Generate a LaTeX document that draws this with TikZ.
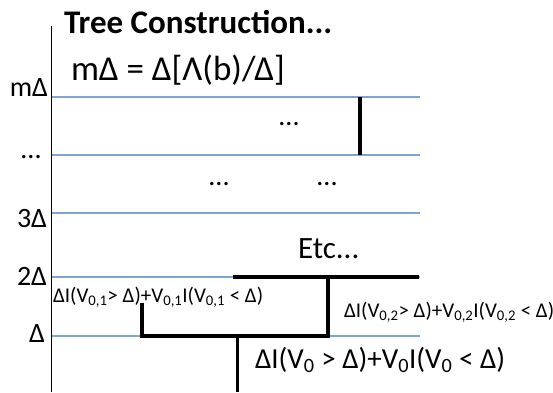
\documentclass[tikz,border=0pt]{standalone}
\usepackage{fontspec}
\setmainfont{Carlito}
\definecolor{gridblue}{HTML}{7FA5D5}
\begin{document}
\begin{tikzpicture}[x=1pt,y=-1pt,
  txt/.style={inner sep=0pt,outer sep=0pt,font=\fontsize{28}{30}\selectfont},
  small/.style={inner sep=0pt,outer sep=0pt,font=\fontsize{21}{23}\selectfont},
  level/.style={gridblue,line width=1.2pt},
  branch/.style={black,line width=3.6pt},
  axis/.style={black,line width=1.5pt}]
\useasboundingbox (0,0) rectangle (553,392);
% axis
\coordinate (axtop) at (51.5,26);
\coordinate (axbot) at (51.5,392);
\draw[axis] (axtop) -- (axbot);
% level lines
\foreach \n/\y in {m/97,d/155,c/213,b/277,a/336}{
  \coordinate (L\n w) at (51.5,\y);
  \coordinate (L\n e) at (420,\y);
  \draw[level] (L\n w) -- (L\n e);
}
% left labels
\node[txt,anchor=base east] (labm) at (48,96.5) {mΔ};
\node[txt,anchor=center] (labd) at (31,157) {...};
\node[txt,anchor=base east] (lab3) at (47,227) {3Δ};
\node[txt,anchor=base east] (lab2) at (47,285) {2Δ};
\node[txt,anchor=base east] (lab1) at (45,342) {Δ};
% title and formula
\node[txt,anchor=base west,font=\fontsize{33}{35}\selectfont\bfseries] (title) at (64,33) {Tree Construction...};
\node[txt,anchor=base west,font=\fontsize{35}{37}\selectfont] (formula) at (71,80) {mΔ = Δ[Λ(b)/Δ]};
% dots
\node[txt,anchor=center] (dotsA) at (289,124) {...};
\node[txt,anchor=center] (dotsB) at (219,184) {...};
\node[txt,anchor=center] (dotsC) at (327,184) {...};
\node[txt,anchor=base west,font=\fontsize{31}{33}\selectfont] (etc) at (298,258) {Etc...};
% tree
\coordinate (t1) at (360,97);
\coordinate (t2) at (360,155);
\draw[branch] (t1) -- (t2);
\coordinate (h2w) at (233,277);
\coordinate (h2e) at (419,277);
\coordinate (r2) at (328,277);
\coordinate (r1) at (328,336);
\coordinate (l1) at (142,336);
\coordinate (l2) at (142,303);
\coordinate (root) at (237.5,392);
\coordinate (rootTop) at (237.5,336);
\draw[branch] (h2w) -- (h2e);
\draw[branch] (l2) -- (l1) -- (r1) -- (r2);
\draw[branch] (rootTop) -- (root);
% branch labels
\node[small,anchor=base west] (v01) at (53,302) {ΔI(V\textsubscript{0,1}> Δ)+V\textsubscript{0,1}I(V\textsubscript{0,1} < Δ)};
\node[small,anchor=base west] (v02) at (344,317) {ΔI(V\textsubscript{0,2}> Δ)+V\textsubscript{0,2}I(V\textsubscript{0,2} < Δ)};
\node[txt,anchor=base west,font=\fontsize{29}{31}\selectfont] (v0) at (255,368) {ΔI(V\textsubscript{0} > Δ)+V\textsubscript{0}I(V\textsubscript{0} < Δ)};
\end{tikzpicture}
\end{document}
